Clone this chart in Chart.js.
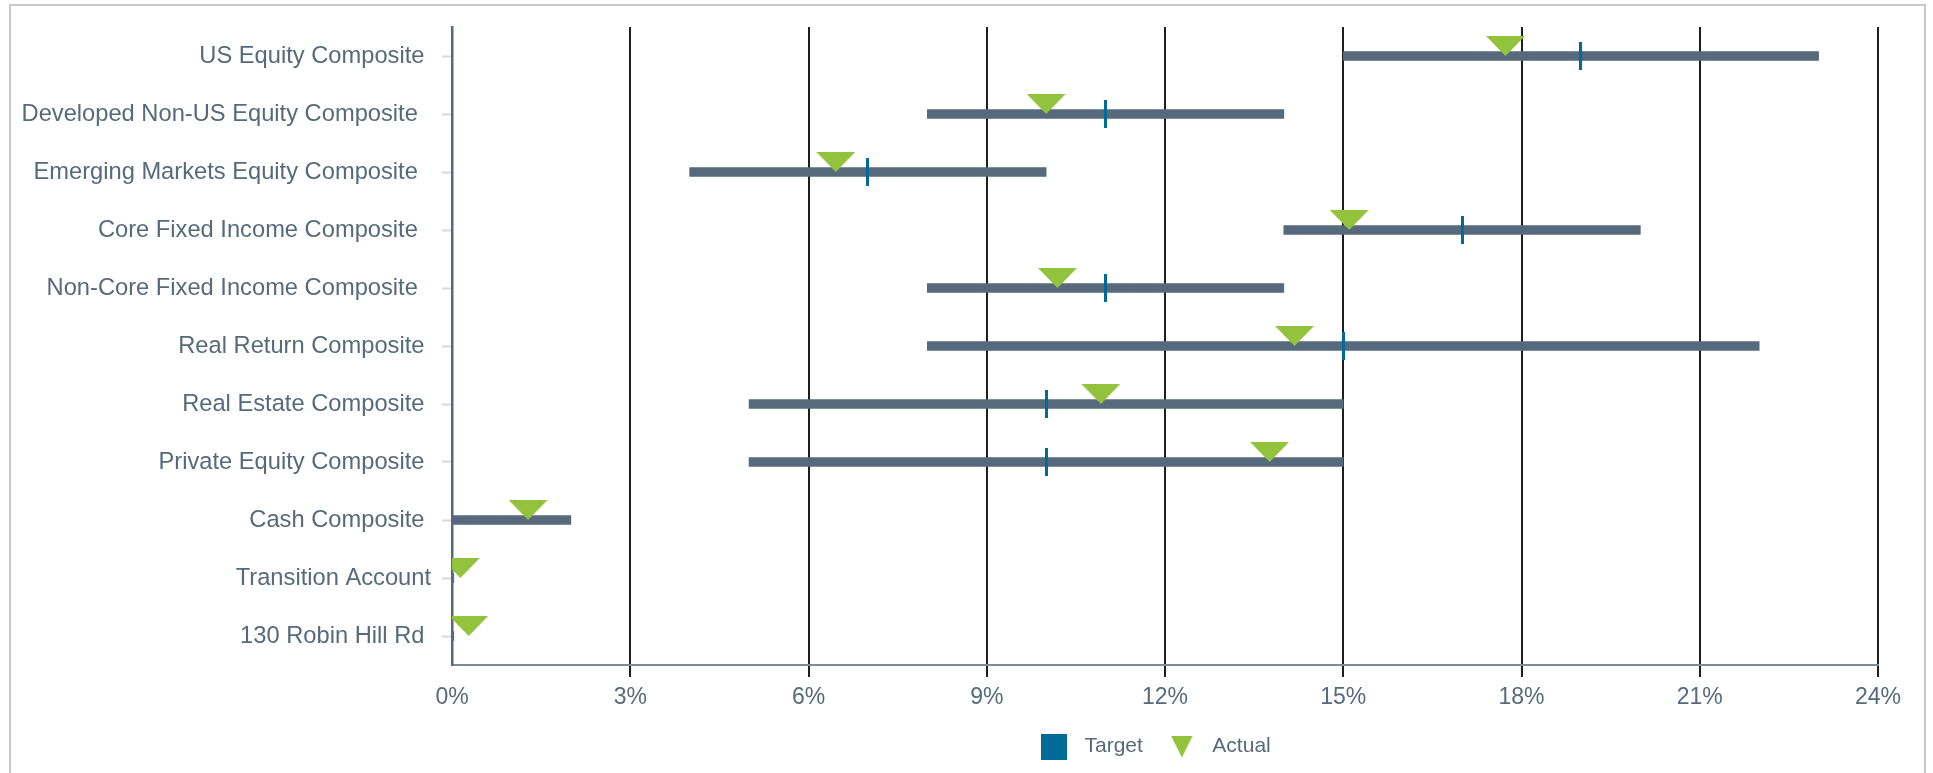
<!DOCTYPE html>
<html>
<head>
<meta charset="utf-8">
<script src="https://cdn.jsdelivr.net/npm/chart.js@4.4.1/dist/chart.umd.min.js"></script>
<style>
html,body{margin:0;padding:0;background:#fff;overflow:hidden;width:1933px;height:773px;}
#frame{position:absolute;left:9px;top:4px;width:1913px;height:900px;border:2px solid #c8c8c8;}
#wrap{position:absolute;left:0;top:0;width:1933px;height:773px;}
</style>
</head>
<body>
<div id="frame"></div>
<div id="wrap"><canvas id="c"></canvas></div>
<script>
const categories = [
  'US Equity Composite ',
  'Developed Non-US Equity Composite  ',
  'Emerging Markets Equity Composite  ',
  'Core Fixed Income Composite  ',
  'Non-Core Fixed Income Composite  ',
  'Real Return Composite ',
  'Real Estate Composite ',
  'Private Equity Composite ',
  'Cash Composite ',
  'Transition Account',
  '130 Robin Hill Rd '
];
const rangeLow  = [15, 8, 4, 14, 8, 8, 5, 5, 0, 0, 0];
const rangeHigh = [23, 14, 10, 20, 14, 22, 15, 15, 2, 0.03, 0.03];
const targetValues = [19, 11, 7, 17, 11, 15, 10, 10, null, null, null];
const actualValues = [17.73, 10.0, 6.46, 15.1, 10.19, 14.18, 10.92, 13.76, 1.28, 0.14, 0.28];
const xTickLabels = ['0%', '3%', '6%', '9%', '12%', '15%', '18%', '21%', '24%'];
const legendLabels = ['Target', 'Actual'];

const RANGE_COLOR = '#566a7b';
const TARGET_COLOR = '#006b96';
const ACTUAL_COLOR = '#93c33d';
const TEXT_COLOR = '#566a7c';
const FONT = 'Liberation Sans, Arial, sans-serif';

function triCanvas(w, h, color, tipCentered) {
  const c = document.createElement('canvas');
  c.width = w; c.height = tipCentered ? 2 * h : h;
  const g = c.getContext('2d');
  g.fillStyle = color;
  g.beginPath(); g.moveTo(0, 0); g.lineTo(w, 0); g.lineTo(w / 2, h); g.closePath(); g.fill();
  return c;
}
function rectCanvas(w, h, color) {
  const c = document.createElement('canvas');
  c.width = w; c.height = h;
  const g = c.getContext('2d');
  g.fillStyle = color; g.fillRect(0, 0, w, h);
  return c;
}
const actualMarker = triCanvas(39, 20, ACTUAL_COLOR, true);
const targetMarker = rectCanvas(3, 28, TARGET_COLOR);
const legendSquare = rectCanvas(26, 26, TARGET_COLOR);
const legendTri = triCanvas(22, 22, ACTUAL_COLOR, false);

const LEGEND_START_X = 1034;
const legendShift = {
  id: 'legendShift',
  afterLayout(chart) {
    const lg = chart.legend;
    if (!lg || !lg.lineWidths) return;
    const p = lg.options.labels.padding;
    const x = (lg.left + p + lg.right - lg.lineWidths[0]) / 2;
    const dx = LEGEND_START_X - x;
    lg.left += dx; lg.right += dx;
  }
};

new Chart(document.getElementById('c'), {
  type: 'bar',
  data: {
    labels: categories,
    datasets: [
      {
        label: 'Range',
        data: categories.map((_, i) => [rangeLow[i], rangeHigh[i]]),
        backgroundColor: RANGE_COLOR,
        barThickness: 9,
        borderSkipped: false,
        order: 3
      },
      {
        type: 'line',
        label: legendLabels[0],
        indexAxis: 'y',
        data: targetValues,
        showLine: false,
        pointStyle: targetMarker,
        pointRadius: 5,
        pointHoverRadius: 5,
        borderColor: TARGET_COLOR,
        backgroundColor: TARGET_COLOR,
        order: 2
      },
      {
        type: 'line',
        label: legendLabels[1],
        indexAxis: 'y',
        data: actualValues,
        showLine: false,
        pointStyle: actualMarker,
        pointRadius: 5,
        pointHoverRadius: 5,
        borderColor: ACTUAL_COLOR,
        backgroundColor: ACTUAL_COLOR,
        order: 1
      }
    ]
  },
  options: {
    indexAxis: 'y',
    responsive: true,
    maintainAspectRatio: false,
    animation: false,
    events: [],
    layout: { padding: { left: 0, right: 55, top: 27, bottom: 6 } },
    scales: {
      x: {
        type: 'linear',
        min: 0, max: 24,
        afterFit(scale) { scale.height = 52; },
        afterBuildTicks(scale) { scale.ticks = xTickLabels.map((_, i) => ({ value: i * 3 })); },
        ticks: {
          callback: (v, i) => xTickLabels[i],
          color: TEXT_COLOR,
          font: { family: FONT, size: 23 },
          padding: 7,
          maxRotation: 0,
          autoSkip: false
        },
        grid: {
          color: (ctx) => ctx.index === 0 ? 'rgba(0,0,0,0)' : '#1e1e1e',
          lineWidth: 2,
          tickLength: 12,
          drawTicks: true
        },
        border: { display: true, color: '#7a8b99', width: 2 }
      },
      y: {
        afterFit(scale) { scale.width = 452; },
        ticks: {
          color: TEXT_COLOR,
          font: { family: FONT, size: 23.7 },
          padding: 11,
          autoSkip: false
        },
        grid: {
          offset: false,
          drawOnChartArea: false,
          tickLength: 10,
          tickColor: '#d9d9d9',
          tickWidth: 2
        },
        border: { display: true, color: RANGE_COLOR, width: 2.5 }
      }
    },
    plugins: {
      tooltip: { enabled: false },
      legend: {
        display: true,
        position: 'bottom',
        labels: {
          usePointStyle: true,
          pointStyleWidth: 40,
          padding: 19,
          color: TEXT_COLOR,
          font: { family: FONT, size: 21 },
          generateLabels: () => [
            { text: legendLabels[0], pointStyle: legendSquare, fillStyle: TARGET_COLOR, strokeStyle: TARGET_COLOR, lineWidth: 0, hidden: false, datasetIndex: 1, fontColor: TEXT_COLOR },
            { text: legendLabels[1], pointStyle: legendTri, fillStyle: ACTUAL_COLOR, strokeStyle: ACTUAL_COLOR, lineWidth: 0, hidden: false, datasetIndex: 2, fontColor: TEXT_COLOR }
          ]
        }
      }
    }
  },
  plugins: [legendShift]
});
</script>
</body>
</html>
